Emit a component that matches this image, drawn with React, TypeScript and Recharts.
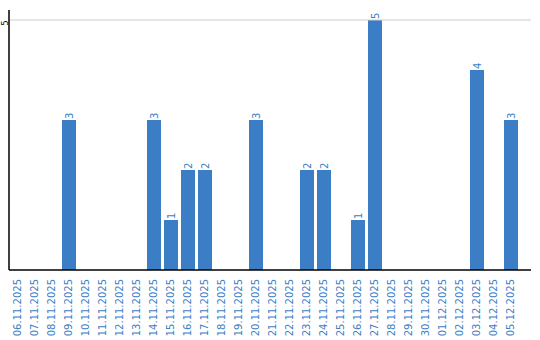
import React from "react";
import { Bar, BarChart, LabelList, ReferenceLine, XAxis, YAxis } from "recharts";

const dates = [
  "06.11.2025", "07.11.2025", "08.11.2025", "09.11.2025", "10.11.2025",
  "11.11.2025", "12.11.2025", "13.11.2025", "14.11.2025", "15.11.2025",
  "16.11.2025", "17.11.2025", "18.11.2025", "19.11.2025", "20.11.2025",
  "21.11.2025", "22.11.2025", "23.11.2025", "24.11.2025", "25.11.2025",
  "26.11.2025", "27.11.2025", "28.11.2025", "29.11.2025", "30.11.2025",
  "01.12.2025", "02.12.2025", "03.12.2025", "04.12.2025", "05.12.2025",
];

const counts = [
  0, 0, 0, 3, 0, 0, 0, 0, 3, 1,
  2, 2, 0, 0, 3, 0, 0, 2, 2, 0,
  1, 5, 0, 0, 0, 0, 0, 4, 0, 3,
];

const yTicks = [5];

const BLUE = "#3b7ec5";
const FONT = "DejaVu Sans, sans-serif";

const data = dates.map((d, i) => ({ date: d, count: counts[i] }));

// rotated date labels hanging below the axis
const XTick = (props: any) => {
  const { x, payload } = props;
  const y = 279;
  return (
    <text
      x={x}
      y={y}
      transform={`rotate(-90, ${x}, ${y})`}
      textAnchor="end"
      dominantBaseline="central"
      fill={BLUE}
      fontSize={10}
      fontFamily={FONT}
    >
      {payload.value}
    </text>
  );
};

const YTick = (props: any) => {
  const { y, payload } = props;
  const x = 5;
  const ty = y + 3;
  return (
    <text
      x={x}
      y={ty}
      transform={`rotate(-90, ${x}, ${ty})`}
      textAnchor="middle"
      dominantBaseline="central"
      fill="#000"
      fontSize={8}
      fontFamily={FONT}
    >
      {payload.value}
    </text>
  );
};

const ValueLabel = (props: any) => {
  const { x, y, width, value } = props;
  if (!value) return null;
  const cx = x + width / 2;
  const ty = y - 1;
  return (
    <text
      x={cx}
      y={ty}
      transform={`rotate(-90, ${cx}, ${ty})`}
      textAnchor="start"
      dominantBaseline="central"
      fill={BLUE}
      fontSize={10}
      fontFamily={FONT}
    >
      {value}
    </text>
  );
};

export default function App() {
  return (
    <div style={{ position: "absolute", left: 0, top: 0, background: "#fff" }}>
      <BarChart
        width={540}
        height={340}
        data={data}
        margin={{ top: 10, right: 9, left: -1, bottom: 0 }}
        barCategoryGap={1.5}
      >
        <XAxis
          dataKey="date"
          interval={0}
          height={70}
          padding={{ left: 0, right: 12 }}
          tickLine={false}
          axisLine={{ stroke: "#000", strokeWidth: 1.5 }}
          tick={<XTick />}
        />
        <YAxis
          width={10}
          domain={[0, 5.2]}
          ticks={yTicks}
          tickLine={false}
          axisLine={{ stroke: "#000", strokeWidth: 1.5 }}
          tick={<YTick />}
        />
        <ReferenceLine y={5} stroke="#cccccc" />
        <Bar dataKey="count" fill={BLUE} barSize={14} isAnimationActive={false}>
          <LabelList dataKey="count" content={<ValueLabel />} />
        </Bar>
      </BarChart>
    </div>
  );
}
